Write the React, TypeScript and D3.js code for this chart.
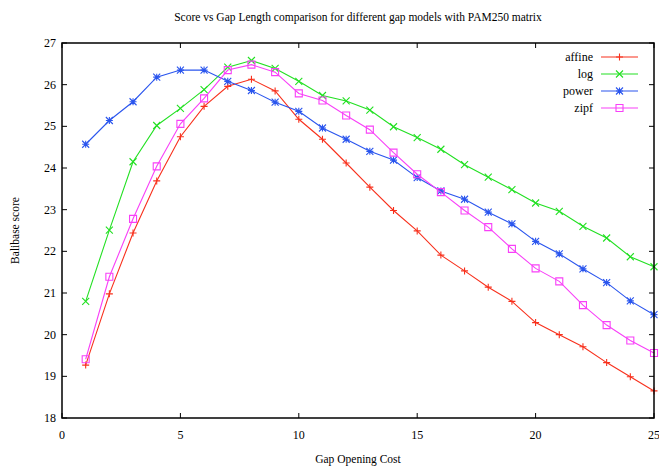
import { useEffect, useRef } from 'react';
import * as d3 from 'd3';

const gapCost = [1, 2, 3, 4, 5, 6, 7, 8, 9, 10, 11, 12, 13, 14, 15, 16, 17, 18, 19, 20, 21, 22, 23, 24, 25];

const affine = [19.27, 20.98, 22.44, 23.69, 24.75, 25.48, 25.96, 26.13, 25.85, 25.17, 24.69, 24.12, 23.54, 22.98, 22.49, 21.91, 21.53, 21.14, 20.8, 20.29, 20.0, 19.71, 19.33, 18.99, 18.65];
const logGap = [20.8, 22.51, 24.15, 25.02, 25.43, 25.88, 26.42, 26.58, 26.39, 26.08, 25.74, 25.61, 25.39, 24.99, 24.73, 24.45, 24.08, 23.78, 23.48, 23.16, 22.96, 22.6, 22.32, 21.87, 21.63];
const power = [24.57, 25.14, 25.59, 26.18, 26.35, 26.35, 26.08, 25.86, 25.58, 25.36, 24.96, 24.69, 24.4, 24.19, 23.77, 23.45, 23.25, 22.94, 22.66, 22.24, 21.94, 21.58, 21.25, 20.81, 20.48];
const zipf = [19.41, 21.39, 22.78, 24.04, 25.06, 25.67, 26.35, 26.48, 26.3, 25.79, 25.62, 25.26, 24.92, 24.37, 23.85, 23.42, 22.98, 22.58, 22.06, 21.59, 21.28, 20.71, 20.23, 19.86, 19.56];

const seriesNames = ['affine', 'log', 'power', 'zipf'];
const seriesColors = ['#f8301c', '#22e022', '#2a55ee', '#f840f8'];
const seriesMarkers = ['plus', 'cross', 'star', 'square'];

const xTicks = [0, 5, 10, 15, 20, 25];
const yTicks = [18, 19, 20, 21, 22, 23, 24, 25, 26, 27];

const W = 659;
const H = 466;
const FONT = '"Liberation Serif", "DejaVu Serif", serif';

function drawMarker(g: any, kind: string, cx: number, cy: number, color: string) {
  const s = 3.5;
  const p = d3.path();
  if (kind === 'plus' || kind === 'star') {
    p.moveTo(cx - s, cy); p.lineTo(cx + s, cy);
    p.moveTo(cx, cy - s); p.lineTo(cx, cy + s);
  }
  if (kind === 'cross' || kind === 'star') {
    p.moveTo(cx - s, cy - s); p.lineTo(cx + s, cy + s);
    p.moveTo(cx - s, cy + s); p.lineTo(cx + s, cy - s);
  }
  if (kind === 'square') {
    p.rect(cx - s, cy - s, 2 * s, 2 * s);
  }
  g.append('path').attr('d', p.toString()).attr('fill', 'none').attr('stroke', color).attr('stroke-width', 1.1);
}

export default function App() {
  const svgRef = useRef<SVGSVGElement>(null);

  useEffect(() => {
    const svg = d3.select(svgRef.current);
    svg.selectAll('*').remove();

    const margin = { top: 43, right: 5, bottom: 48, left: 62 };
    const x = d3.scaleLinear().domain([0, 25]).range([margin.left, W - margin.right]);
    const y = d3.scaleLinear().domain([18, 27]).range([H - margin.bottom, margin.top]);

    svg.append('rect').attr('width', W).attr('height', H).attr('fill', '#fff');

    const series = [affine, logGap, power, zipf];
    const line = d3.line<number>().x((d, i) => x(gapCost[i])).y((d) => y(d));

    series.forEach((vals, k) => {
      svg.append('path').datum(vals).attr('d', line).attr('fill', 'none')
        .attr('stroke', seriesColors[k]).attr('stroke-width', 1.1);
      const g = svg.append('g');
      vals.forEach((v, i) => drawMarker(g, seriesMarkers[k], x(gapCost[i]), y(v), seriesColors[k]));
    });

    // frame
    const [x0, x1] = x.range();
    const [y0, y1] = y.range();
    svg.append('rect').attr('x', x0).attr('y', y1).attr('width', x1 - x0).attr('height', y0 - y1)
      .attr('fill', 'none').attr('stroke', '#000').attr('stroke-width', 1.5);

    const tl = 5;
    xTicks.forEach((t) => {
      svg.append('line').attr('x1', x(t)).attr('x2', x(t)).attr('y1', y0).attr('y2', y0 - tl).attr('stroke', '#000');
      svg.append('line').attr('x1', x(t)).attr('x2', x(t)).attr('y1', y1).attr('y2', y1 + tl).attr('stroke', '#000');
      svg.append('text').attr('x', x(t)).attr('y', y0 + 21).attr('text-anchor', 'middle')
        .attr('font-family', FONT).attr('font-size', 12).text(String(t));
    });
    yTicks.forEach((t) => {
      svg.append('line').attr('x1', x0).attr('x2', x0 + tl).attr('y1', y(t)).attr('y2', y(t)).attr('stroke', '#000');
      svg.append('line').attr('x1', x1).attr('x2', x1 - tl).attr('y1', y(t)).attr('y2', y(t)).attr('stroke', '#000');
      svg.append('text').attr('x', x0 - 6).attr('y', y(t) + 4).attr('text-anchor', 'end')
        .attr('font-family', FONT).attr('font-size', 12).text(String(t));
    });

    const cx = (x0 + x1) / 2;
    svg.append('text').attr('x', cx).attr('y', 21).attr('text-anchor', 'middle')
      .attr('font-family', FONT).attr('font-size', 11.5)
      .text('Score vs Gap Length comparison for different gap models with PAM250 matrix');
    svg.append('text').attr('x', cx).attr('y', 463).attr('text-anchor', 'middle')
      .attr('font-family', FONT).attr('font-size', 11.5).text('Gap Opening Cost');
    svg.append('text').attr('transform', `translate(19,${(y0 + y1) / 2}) rotate(-90)`)
      .attr('text-anchor', 'middle').attr('font-family', FONT).attr('font-size', 11.5).text('Balibase score');

    // legend
    seriesNames.forEach((name, k) => {
      const ly = 57 + k * 17;
      svg.append('text').attr('x', 593).attr('y', ly + 4).attr('text-anchor', 'end')
        .attr('font-family', FONT).attr('font-size', 12).text(name);
      svg.append('line').attr('x1', 601).attr('x2', 638).attr('y1', ly).attr('y2', ly)
        .attr('stroke', seriesColors[k]).attr('stroke-width', 1.1);
      drawMarker(svg.append('g'), seriesMarkers[k], 619.5, ly, seriesColors[k]);
    });
  }, []);

  return <svg ref={svgRef} width={W} height={H} style={{ position: 'absolute', left: 0, top: 0 }} />;
}
